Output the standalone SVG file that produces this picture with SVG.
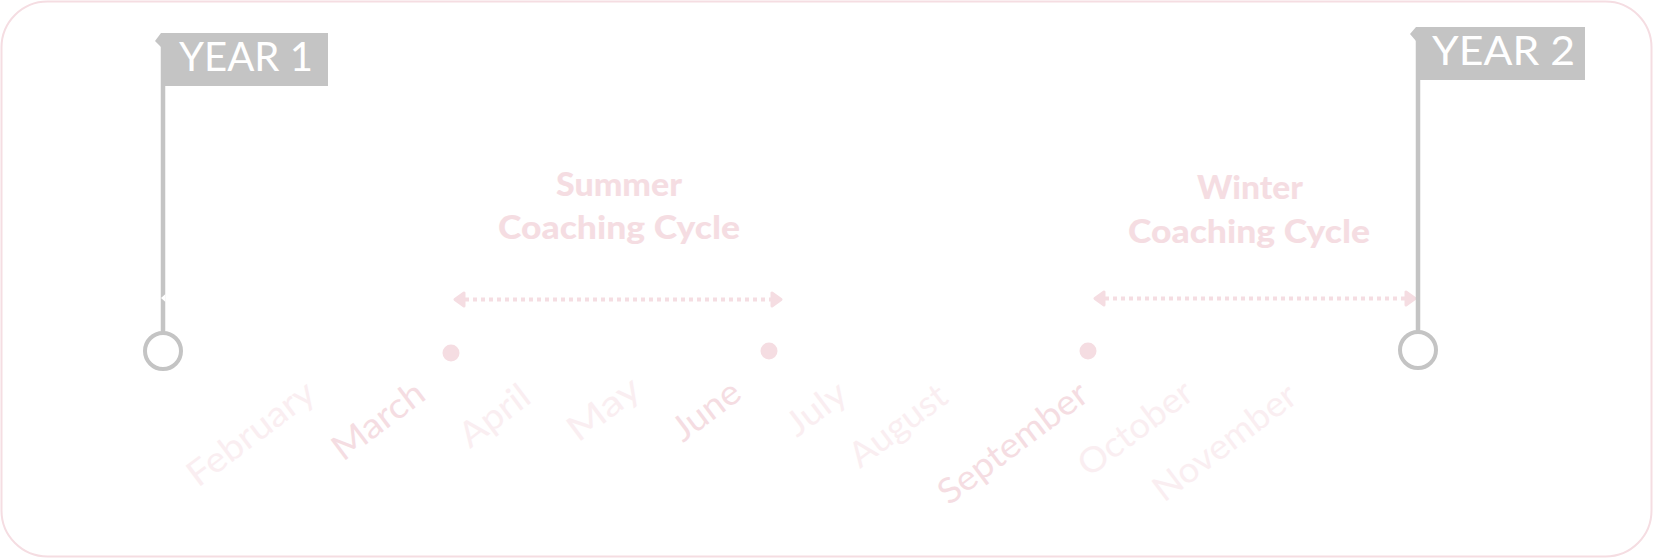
<svg xmlns="http://www.w3.org/2000/svg" width="1653" height="560" viewBox="0 0 1653 560">
<style>
text{font-family:"Lato","Liberation Sans",sans-serif}
.flag{fill:#c4c4c4}
.pole{stroke:#c4c4c4;stroke-width:4.5;fill:none}
.ring{stroke:#c4c4c4;stroke-width:4;fill:#fff}
.yr{fill:#fff;font-size:40px}
.ttl{fill:#f5dde2;font-size:32px;font-weight:900;text-anchor:middle}
.dot{fill:#f5dde2;stroke:#fff;stroke-opacity:.6;stroke-width:4;paint-order:stroke}
.m{font-size:35px;fill:#f5dde2}
.f{font-size:35px;fill:#faeef1}
.arr{stroke:#f5dde2;stroke-width:4;stroke-dasharray:4 4;fill:none}
.hd{fill:#f5dde2;stroke:#f5dde2;stroke-width:3;stroke-linejoin:round}
</style>
<rect id="frame" x="1.5" y="1.5" width="1650" height="555" rx="46" fill="#fff" stroke="#f5dde2" stroke-width="2"/>
<g id="connectors">
<path class="arr" d="M465 299.5H771"/>
<polygon class="hd" points="455,299.5 464,293 464,306"/>
<polygon class="hd" points="781,299.5 772,293 772,306"/>
<path class="arr" d="M1105 298.5H1405"/>
<polygon class="hd" points="1095,298.5 1104,292 1104,305"/>
<polygon class="hd" points="1415,298.5 1406,292 1406,305"/>
</g>
<g id="year1">
<path class="pole" d="M163 40V333"/>
<polygon fill="#fff" points="161,298 165.5,294 165.5,302"/>
<polygon class="flag" points="161,33 328,33 328,86 161,86 161,47 155,41"/>
<circle class="ring" cx="163" cy="351" r="18"/>
<text class="yr" x="179" y="71" textLength="134" lengthAdjust="spacingAndGlyphs">YEAR 1</text>
</g>
<g id="year2">
<path class="pole" d="M1418 34V332"/>
<polygon class="flag" points="1416,27 1585,27 1585,80 1416,80 1416,41 1410,34"/>
<circle class="ring" cx="1418" cy="350" r="18"/>
<text class="yr" x="1432" y="65" textLength="143" lengthAdjust="spacingAndGlyphs">YEAR 2</text>
</g>
<g id="summer-title">
<text class="ttl" x="619" y="196" textLength="126" lengthAdjust="spacingAndGlyphs">Summer</text>
<text class="ttl" x="619" y="239" textLength="242" lengthAdjust="spacingAndGlyphs">Coaching Cycle</text>
</g>
<g id="winter-title">
<text class="ttl" x="1250" y="199" textLength="106" lengthAdjust="spacingAndGlyphs">Winter</text>
<text class="ttl" x="1249" y="243" textLength="242" lengthAdjust="spacingAndGlyphs">Coaching Cycle</text>
</g>
<g id="dot-march"><circle class="dot" cx="451" cy="353" r="8.5"/></g>
<g id="dot-june"><circle class="dot" cx="769" cy="351" r="8.5"/></g>
<g id="dot-september"><circle class="dot" cx="1088" cy="351" r="8.5"/></g>
<g id="months">
<text class="f" transform="translate(198 488) rotate(-37)" textLength="150" lengthAdjust="spacingAndGlyphs">February</text>
<text class="m" transform="translate(343 462) rotate(-37)" textLength="106" lengthAdjust="spacingAndGlyphs">March</text>
<text class="f" transform="translate(470 449) rotate(-37)" textLength="79" lengthAdjust="spacingAndGlyphs">April</text>
<text class="f" transform="translate(578 443) rotate(-37)" textLength="82" lengthAdjust="spacingAndGlyphs">May</text>
<text class="m" transform="translate(683 443) rotate(-37)" textLength="76" lengthAdjust="spacingAndGlyphs">June</text>
<text class="f" transform="translate(797 438) rotate(-37)" textLength="66" lengthAdjust="spacingAndGlyphs">July</text>
<text class="f" transform="translate(860 469) rotate(-37)" textLength="113" lengthAdjust="spacingAndGlyphs">August</text>
<text class="m" transform="translate(949 506) rotate(-37)" textLength="178" lengthAdjust="spacingAndGlyphs">September</text>
<text class="f" transform="translate(1089 478) rotate(-37)" textLength="134" lengthAdjust="spacingAndGlyphs">October</text>
<text class="f" transform="translate(1164 503) rotate(-37)" textLength="170" lengthAdjust="spacingAndGlyphs">November</text>
</g>
</svg>
